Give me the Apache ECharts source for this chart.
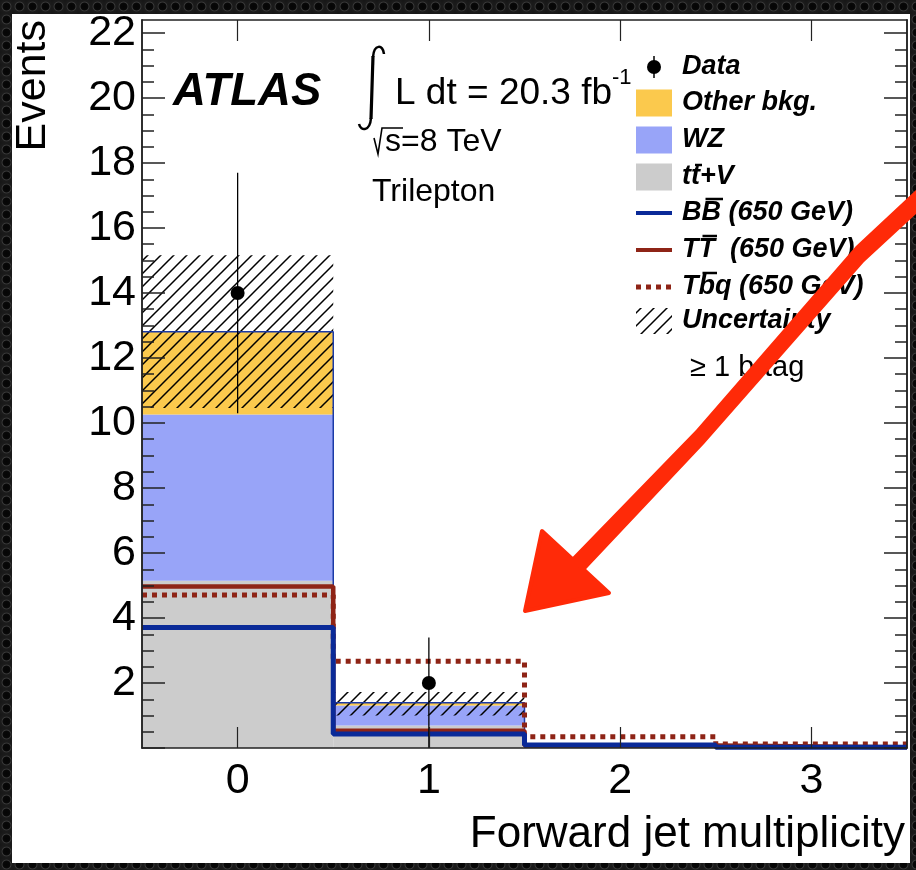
<!DOCTYPE html>
<html>
<head>
<meta charset="utf-8">
<script src="https://cdn.jsdelivr.net/npm/echarts@6.0.0/dist/echarts.min.js"></script>
<style>
  html, body { margin: 0; padding: 0; }
  body {
    width: 916px; height: 870px; position: relative; overflow: hidden;
    background-color: #161616;
    background-image: radial-gradient(circle at 50% 50%, #050505 0, #080808 38%, #3a3a3a 48%, #1c1c1c 58%, #161616 100%);
    background-size: 13px 13px;
  }
  #frame { position: absolute; left: 12px; top: 14px; width: 898px; height: 849px; background: #ffffff; }
  #chart { position: absolute; left: 0; top: 0; width: 916px; height: 870px; }
</style>
</head>
<body>
<div id="frame"></div>
<div id="chart"></div>
<script>
// ---------------- data ----------------
const bins = [0, 1, 2, 3];
const xTickLabels = [0, 1, 2, 3];
const yMajorTicks = [0, 2, 4, 6, 8, 10, 12, 14, 16, 18, 20, 22];
const yTickLabels = [2, 4, 6, 8, 10, 12, 14, 16, 18, 20, 22];
const yMinorTicks = [0.5, 1, 1.5, 2.5, 3, 3.5, 4.5, 5, 5.5, 6.5, 7, 7.5, 8.5, 9, 9.5, 10.5, 11, 11.5,
                     12.5, 13, 13.5, 14.5, 15, 15.5, 16.5, 17, 17.5, 18.5, 19, 19.5, 20.5, 21, 21.5, 22];

const ttV      = [5.15, 0.69, 0.05, 0.02];
const wz       = [5.11, 0.62, 0.03, 0.01];
const otherBkg = [2.55, 0.08, 0.01, 0.00];
const uncUp    = [2.35, 0.33, 0.03, 0.01];
const uncDown  = [2.35, 0.39, 0.03, 0.01];

const bbSignal  = [3.71, 0.43, 0.09, 0.02];
const ttSignal  = [4.97, 0.53, 0.08, 0.02];
const tbqSignal = [4.71, 2.67, 0.35, 0.12];

const dataBins    = [0, 1];
const dataVals    = [14, 2];
const dataErrUp   = [3.7, 1.4];
const dataErrDown = [3.7, 2.0];

// ---------------- helpers ----------------
const C_OTHER = '#fbc94d', C_WZ = '#98a4f8', C_TTV = '#cccccc';
const C_BB = '#0a2a98', C_TT = '#8e2416';
const FONT = 'Liberation Sans';

const hatchCanvas = document.createElement('canvas');
hatchCanvas.width = 13; hatchCanvas.height = 13;
(function () {
  const g = hatchCanvas.getContext('2d');
  g.strokeStyle = '#000'; g.lineWidth = 1.5;
  g.beginPath();
  g.moveTo(-2, 15); g.lineTo(15, -2);
  g.moveTo(-2, 2); g.lineTo(2, -2);
  g.moveTo(11, 15); g.lineTo(15, 11);
  g.stroke();
})();
const hatchPattern = { image: hatchCanvas, repeat: 'repeat' };

const stackBase1 = ttV.slice();
const stackBase2 = ttV.map((v, i) => v + wz[i]);
const stackTotal = stackBase2.map((v, i) => v + otherBkg[i]);

function band(lo, hi) { return bins.map((b, i) => [b, lo[i], hi[i]]); }
function steps(vals) {
  const pts = [];
  bins.forEach((b, i) => { pts.push([b - 0.5, vals[i]]); pts.push([b + 0.5, vals[i]]); });
  return pts;
}
function rectRender(fill) {
  return function (params, api) {
    const x = api.value(0), y0 = api.value(1), y1 = api.value(2);
    const p0 = api.coord([x - 0.5, y1]);
    const p1 = api.coord([x + 0.5, y0]);
    return { type: 'rect', shape: { x: p0[0], y: p0[1], width: p1[0] - p0[0], height: p1[1] - p0[1] },
             style: { fill: fill } };
  };
}

const mctx = document.createElement('canvas').getContext('2d');
function measure(text, font) { mctx.font = font; return mctx.measureText(text).width; }

// ---------------- graphic (texts, legend, arrow) ----------------
const graphics = [];
function txt(x, y, text, size, opts) {
  opts = opts || {};
  graphics.push({
    type: 'text', x: x, y: y, z: 50, rotation: opts.rotation || 0,
    style: { text: text, fill: '#000', font: (opts.style || '') + ' ' + size + 'px "' + FONT + '"',
             align: opts.align || 'left', verticalAlign: 'middle' }
  });
}
function overline(x, text, k, y, size, shift) {
  const font = 'italic bold ' + size + 'px "' + FONT + '"';
  const x0 = x + measure(text.slice(0, k), font);
  const w = measure(text.charAt(k), font);
  graphics.push({ type: 'line', z: 50, shape: { x1: x0 + shift + 1, y1: y, x2: x0 + w + shift - 1, y2: y },
                  style: { stroke: '#000', lineWidth: 2.5 } });
}

// axis titles
txt(33, 20, 'Events', 43, { rotation: Math.PI / 2, align: 'right' });
txt(905, 835, 'Forward jet multiplicity', 44, { align: 'right' });

// ATLAS labels
txt(173, 92, 'ATLAS', 45.5, { style: 'italic bold' });
graphics.push({ type: 'bezierCurve', z: 50,
  shape: { x1: 384, y1: 54, cpx1: 383, cpy1: 44, cpx2: 374, cpy2: 44, x2: 373, y2: 57 },
  style: { stroke: '#000', lineWidth: 2.5, fill: null } });
graphics.push({ type: 'line', z: 50, shape: { x1: 373, y1: 56, x2: 371, y2: 119 },
  style: { stroke: '#000', lineWidth: 3.2 } });
graphics.push({ type: 'bezierCurve', z: 50,
  shape: { x1: 371, y1: 118, cpx1: 370, cpy1: 131, cpx2: 361, cpy2: 132, x2: 359, y2: 124 },
  style: { stroke: '#000', lineWidth: 2.5, fill: null } });
txt(395, 94, 'L dt = 20.3 fb', 37);
txt(612, 78, '-1', 22);
graphics.push({ type: 'polyline', z: 50, shape: { points: [[374, 138], [378, 154], [382, 128], [403, 128]] },
  style: { stroke: '#000', lineWidth: 1.6, fill: null } });
txt(385, 142, 's=8 TeV', 32);
txt(372, 192, 'Trilepton', 32);
txt(690, 368, '\u2265 1 b-tag', 29);

// legend
const LX = 636, LW = 36, TX = 682, LS = 27;
const rows = [67, 103, 140, 177, 213, 250, 287, 321];
graphics.push({ type: 'line', z: 50, shape: { x1: LX + 18, y1: rows[0] - 11, x2: LX + 18, y2: rows[0] + 11 },
                style: { stroke: '#000', lineWidth: 1.5 } });
graphics.push({ type: 'circle', z: 50, shape: { cx: LX + 18, cy: rows[0], r: 7 }, style: { fill: '#000' } });
[[1, C_OTHER], [2, C_WZ], [3, C_TTV]].forEach(function (e) {
  graphics.push({ type: 'rect', z: 50, shape: { x: LX, y: rows[e[0]] - 13.5, width: LW, height: 27 }, style: { fill: e[1] } });
});
graphics.push({ type: 'line', z: 50, shape: { x1: LX, y1: rows[4], x2: LX + LW, y2: rows[4] }, style: { stroke: C_BB, lineWidth: 4 } });
graphics.push({ type: 'line', z: 50, shape: { x1: LX, y1: rows[5], x2: LX + LW, y2: rows[5] }, style: { stroke: C_TT, lineWidth: 4 } });
graphics.push({ type: 'line', z: 50, shape: { x1: LX, y1: rows[6], x2: LX + LW, y2: rows[6] },
                style: { stroke: C_TT, lineWidth: 5, lineDash: [5, 5] } });
graphics.push({ type: 'rect', z: 50, shape: { x: LX, y: rows[7] - 13, width: LW, height: 26 }, style: { fill: hatchPattern } });

const legendTexts = ['Data', 'Other bkg.', 'WZ', 'tt+V', 'BB (650 GeV)', 'TT  (650 GeV)', 'Tbq (650 GeV)', 'Uncertainty'];
legendTexts.forEach(function (t, i) { txt(TX, rows[i], t, LS, { style: 'italic bold' }); });
overline(TX, 'tt+V', 1, rows[3] - 12, LS, 3);
overline(TX, 'BB (650 GeV)', 1, rows[4] - 14, LS, 3);
overline(TX, 'TT  (650 GeV)', 1, rows[5] - 14, LS, 3);
overline(TX, 'Tbq (650 GeV)', 1, rows[6] - 14, LS, 3);

// red hand-drawn arrow
graphics.push({ type: 'polygon', z: 100,
  shape: { points: [[916, 190], [916, 214], [864, 262], [704, 444], [572, 584], [560, 570], [696, 430], [856, 246]] },
  style: { fill: '#ff2a08' } });
graphics.push({ type: 'polygon', z: 100, shape: { points: [[542, 531], [525, 611], [609, 593]] },
  style: { fill: '#ff2a08', stroke: '#ff2a08', lineWidth: 4, lineJoin: 'round' } });

// ---------------- chart ----------------
const axisCol = '#222';
const Y_MAX = 22.4;
function yAx(pos, ticks, len, labels) {
  return {
    type: 'value', min: 0, max: Y_MAX, position: pos, z: 10,
    axisLine: { show: true, onZero: false, lineStyle: { color: axisCol, width: 1.5 } },
    axisTick: { show: true, inside: true, length: len, customValues: ticks, lineStyle: { color: axisCol, width: 1.5 } },
    axisLabel: labels ? { show: true, customValues: labels, fontSize: 43, fontFamily: FONT, color: '#000', margin: 6,
                          padding: [5, 0, 0, 0] } : { show: false },
    splitLine: { show: false }
  };
}
function xAx(pos, labels) {
  return {
    type: 'value', min: -0.5, max: 3.5, position: pos, z: 10,
    axisLine: { show: true, onZero: false, lineStyle: { color: axisCol, width: 1.5 } },
    axisTick: { show: true, inside: true, length: 21, customValues: bins, lineStyle: { color: axisCol, width: 1.2 } },
    axisLabel: labels ? { show: true, customValues: xTickLabels, fontSize: 43, fontFamily: FONT, color: '#000', margin: 12 } : { show: false },
    splitLine: { show: false }
  };
}

const option = {
  backgroundColor: 'transparent',
  animation: false,
  grid: { left: 142, right: 9, top: 20, bottom: 122, show: false },
  xAxis: [xAx('bottom', true), xAx('top', false)],
  yAxis: [yAx('left', yMajorTicks, 23, yTickLabels), yAx('left', yMinorTicks, 12, null),
          yAx('right', yMajorTicks, 23, null), yAx('right', yMinorTicks, 12, null)],
  series: [
    { type: 'custom', name: 'ttV', renderItem: rectRender(C_TTV), data: band(bins.map(() => 0), stackBase1), z: 2 },
    { type: 'custom', name: 'WZ', renderItem: rectRender(C_WZ), data: band(stackBase1, stackBase2), z: 2 },
    { type: 'custom', name: 'Other', renderItem: rectRender(C_OTHER), data: band(stackBase2, stackTotal), z: 2 },
    { type: 'custom', name: 'Unc', renderItem: rectRender(hatchPattern),
      data: band(stackTotal.map((v, i) => v - uncDown[i]), stackTotal.map((v, i) => v + uncUp[i])), z: 3 },
    { type: 'line', name: 'stack', data: steps(stackTotal), symbol: 'none', z: 4,
      lineStyle: { color: '#1b3aa6', width: 1.5 } },
    { type: 'line', name: 'TT', data: steps(ttSignal), symbol: 'none', z: 5,
      lineStyle: { color: C_TT, width: 4.5 } },
    { type: 'line', name: 'Tbq', data: steps(tbqSignal), symbol: 'none', z: 5,
      lineStyle: { color: C_TT, width: 5, type: [5, 5], cap: 'butt' } },
    { type: 'line', name: 'BB', data: steps(bbSignal), symbol: 'none', z: 6,
      lineStyle: { color: C_BB, width: 5 } },
    { type: 'custom', name: 'err', z: 7,
      renderItem: function (params, api) {
        const a = api.coord([api.value(0), api.value(1)]);
        const b = api.coord([api.value(0), api.value(2)]);
        return { type: 'line', shape: { x1: a[0], y1: a[1], x2: b[0], y2: b[1] }, style: { stroke: '#000', lineWidth: 1.3 } };
      },
      data: dataBins.map((b, i) => [b, dataVals[i] - dataErrDown[i], dataVals[i] + dataErrUp[i]]) },
    { type: 'scatter', name: 'Data', z: 8, symbol: 'circle', symbolSize: 14,
      itemStyle: { color: '#000', opacity: 1 }, data: dataBins.map((b, i) => [b, dataVals[i]]) }
  ],
  graphic: graphics
};

const chart = echarts.init(document.getElementById('chart'), null, { renderer: 'canvas' });
chart.setOption(option);
</script>
</body>
</html>
